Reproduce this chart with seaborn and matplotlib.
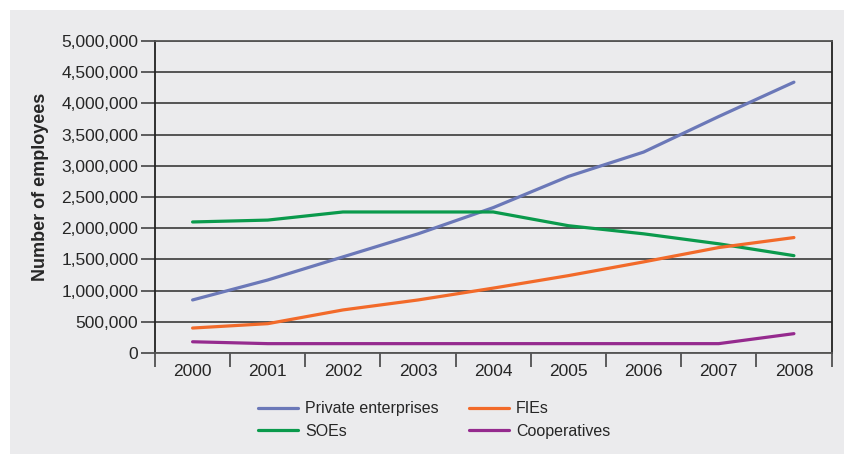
import matplotlib
matplotlib.use("Agg")
import matplotlib.pyplot as plt
import matplotlib.ticker as mticker
from matplotlib.patches import Rectangle
import seaborn as sns
import pandas as pd

years = [2000, 2001, 2002, 2003, 2004, 2005, 2006, 2007, 2008]
private_enterprises = [850000, 1170000, 1540000, 1910000, 2330000, 2830000, 3220000, 3790000, 4340000]
fies = [400000, 470000, 690000, 850000, 1040000, 1240000, 1460000, 1690000, 1850000]
soes = [2100000, 2130000, 2260000, 2260000, 2260000, 2040000, 1910000, 1750000, 1560000]
cooperatives = [180000, 150000, 150000, 150000, 150000, 150000, 150000, 150000, 310000]
series_names = ["Private enterprises", "SOEs", "FIEs", "Cooperatives"]
series_values = [private_enterprises, soes, fies, cooperatives]
colors = {"Private enterprises": "#6b78b8", "FIEs": "#f26a2a",
          "SOEs": "#0a9a4c", "Cooperatives": "#952a8e"}

rows = []
for name, vals in zip(series_names, series_values):
    for i, (y, v) in enumerate(zip(years, vals)):
        rows.append({"pos": i, "year": y, "value": v, "series": name})
df = pd.DataFrame(rows)

sns.set_style("white")
plt.rcParams["font.family"] = ["Liberation Sans", "DejaVu Sans"]

bg = "#ebebed"
fig = plt.figure(figsize=(8.45, 4.54), dpi=100, facecolor="white")
fig.patches.append(Rectangle((10 / 845, 0), 1, 1 - 10 / 454, transform=fig.transFigure,
                             facecolor=bg, edgecolor="none", zorder=-10))
ax = fig.add_axes([155 / 845, 1 - 353 / 454, (831.5 - 155) / 845, (353 - 41) / 454])
ax.set_facecolor(bg)

sns.lineplot(data=df, x="pos", y="value", hue="series", hue_order=series_names,
             palette=colors, linewidth=2.3, ax=ax, legend=False, zorder=3)

ax.set_xlim(-0.5, len(years) - 0.5)
ax.set_ylim(0, 5000000)
ax.yaxis.set_major_locator(mticker.MultipleLocator(500000))
ax.yaxis.set_major_formatter(mticker.FuncFormatter(lambda v, p: f"{int(v):,}"))
ax.grid(axis="y", color="#2a2a2a", linewidth=1.1, zorder=1)
ax.set_axisbelow(True)

ax.set_xticks([i - 0.5 for i in range(len(years) + 1)])
ax.set_xticklabels([])
ax.set_xticks(range(len(years)), minor=True)
ax.set_xticklabels([str(y) for y in years], minor=True, fontsize=12.5)
ax.tick_params(axis="x", which="major", length=10, width=1.2, color="#444444", direction="out", bottom=True)
ax.tick_params(axis="x", which="minor", length=0, pad=8, bottom=True)
ax.tick_params(axis="y", length=10, width=1.2, color="#444444", direction="out", labelsize=12.5, pad=2, left=True)

for s in ["left", "right", "top", "bottom"]:
    ax.spines[s].set_visible(True)
    ax.spines[s].set_color("#222222")
    ax.spines[s].set_linewidth(1.3)
ax.spines["top"].set_color("#555555")
ax.spines["bottom"].set_color("#555555")

ax.set_xlabel("")
ax.set_ylabel("Number of employees", fontsize=13, fontweight="bold")
ax.yaxis.set_label_coords(-(155 - 49) / (831.5 - 155), 1 - (187 - 41) / 312)

handles = [plt.Line2D([], [], color=colors[n], linewidth=2.3) for n in series_names]
fig.legend(handles, series_names, loc="center", bbox_to_anchor=(434 / 845, 1 - 420 / 454),
           ncol=2, frameon=False, fontsize=11.5, handlelength=2.5, handletextpad=0.45,
           columnspacing=1.9, labelspacing=0.45)

fig.savefig("out.png", dpi=100, facecolor="white")
